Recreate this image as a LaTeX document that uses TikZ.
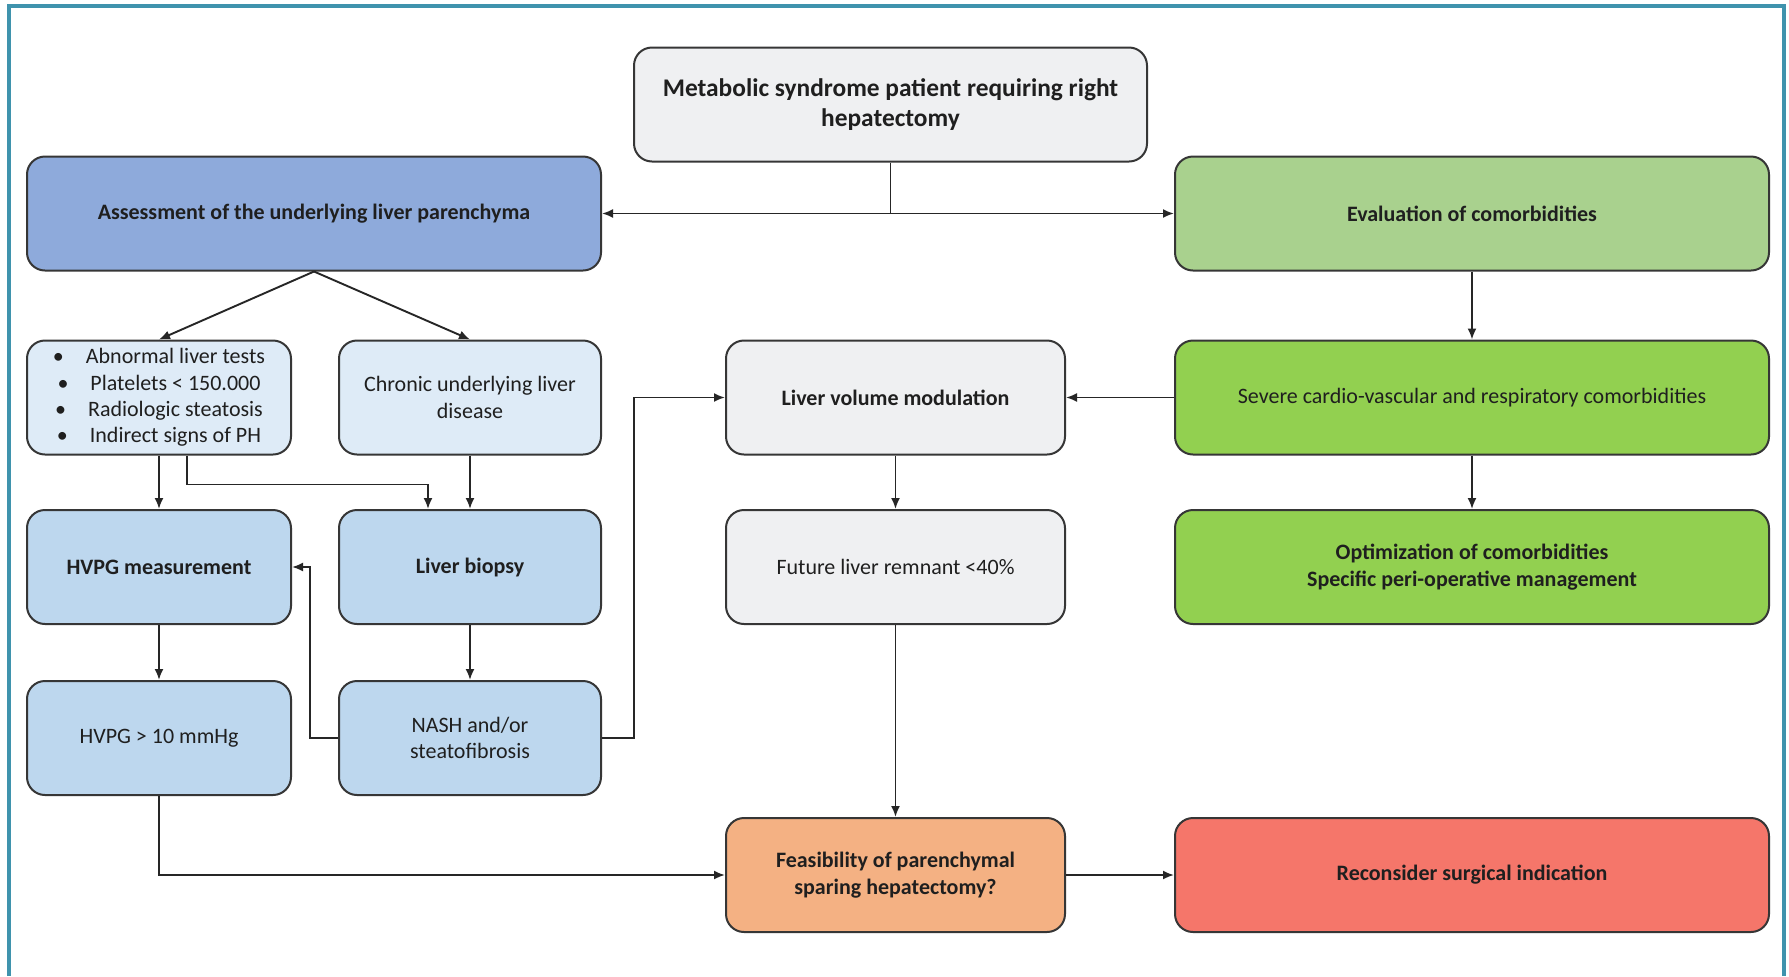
\documentclass[tikz,border=0pt]{standalone}
\usepackage{fontspec}
\setmainfont{Carlito}
\usepackage{xcolor}
\usepackage{tikz}
\usetikzlibrary{arrows.meta,positioning}
\definecolor{frameblue}{HTML}{3F93AD}
\definecolor{boxline}{HTML}{363636}
\definecolor{greybox}{HTML}{EFF0F2}
\definecolor{paleblue}{HTML}{DEEBF7}
\definecolor{midblue}{HTML}{BDD7EE}
\definecolor{deepblue}{HTML}{8EAADB}
\definecolor{sagegreen}{HTML}{A9D18E}
\definecolor{limegreen}{HTML}{92D050}
\definecolor{peach}{HTML}{F4B183}
\definecolor{salmon}{HTML}{F5766A}

\begin{document}
\begin{tikzpicture}[x=0.5pt,y=-0.5pt,>={Latex[length=5.5pt,width=4.5pt]},
  box/.style={draw=boxline,line width=1pt,rounded corners=9pt,align=center,
    minimum height=57pt,inner sep=3pt,text=black!88,
    font=\fontsize{11}{13.2}\selectfont},
  col1/.style={box,minimum width=132pt},
  col2/.style={box,minimum width=131pt},
  col3/.style={box,minimum width=169.5pt},
  col4/.style={box,minimum width=297pt},
  link/.style={draw=black!85,line width=.95pt}]
\useasboundingbox (0,0) rectangle (1789,976);
\fill[white] (0,0) rectangle (1789,976);
\draw[frameblue,line width=1.6pt] (9,976)--(9,6)--(1784,6)--(1784,976);

% first rows
\node[box,fill=greybox,minimum width=256.5pt,font=\fontsize{12.7}{15.2}\selectfont\bfseries] (start) at (890.5,104.5)
  {Metabolic syndrome patient requiring right\\hepatectomy};
\node[box,fill=deepblue,minimum width=287pt,font=\fontsize{11}{13.2}\selectfont\bfseries] (assess) at (314,213.5)
  {Assessment of the underlying liver parenchyma};
\node[col4,fill=sagegreen,font=\fontsize{11}{13.2}\selectfont\bfseries] (evalc) at (1472,213.5)
  {Evaluation of comorbidities};

\node[col1,fill=paleblue] (signs) at (159,397.5)
  {\textbullet\hspace{1em}Abnormal liver tests\\
   \textbullet\hspace{1em}Platelets < 150.000\\
   \textbullet\hspace{1em}Radiologic steatosis\\
   \textbullet\hspace{1em}Indirect signs of PH};
\node[col2,fill=paleblue] (chronic) at (470,397.5) {Chronic underlying liver\\disease};
\node[col3,fill=greybox,font=\fontsize{11}{13.2}\selectfont\bfseries] (volmod) at (895.5,397.5) {Liver volume modulation};
\node[col4,fill=limegreen] (severe) at (1472,397.5) {Severe cardio-vascular and respiratory comorbidities};

\node[col1,fill=midblue,font=\fontsize{11}{13.2}\selectfont\bfseries] (hvpgm) at (159,567) {HVPG measurement};
\node[col2,fill=midblue,font=\fontsize{11}{13.2}\selectfont\bfseries] (biopsy) at (470,567) {Liver biopsy};
\node[col3,fill=greybox] (flr) at (895.5,567) {Future liver remnant <40\%};
\node[col4,fill=limegreen,font=\fontsize{11}{13.2}\selectfont\bfseries] (optim) at (1472,567)
  {Optimization of comorbidities\\Specific peri-operative management};

\node[col1,fill=midblue] (hvpgh) at (159,738) {HVPG > 10 mmHg};
\node[col2,fill=midblue] (nash) at (470,738) {NASH and/or\\steatofibrosis};

\node[col3,fill=peach,font=\fontsize{11}{13.2}\selectfont\bfseries] (feas) at (895.5,875)
  {Feasibility of parenchymal\\sparing hepatectomy?};
\node[col4,fill=salmon,font=\fontsize{11}{13.2}\selectfont\bfseries] (recons) at (1472,875)
  {Reconsider surgical indication};

% connectors
\draw[link] (start.south) -- (start.south |- assess.east) coordinate (fork);
\draw[link,->] (fork) -- (assess.east);
\draw[link,->] (fork) -- (evalc.west);
\draw[link,->] (assess.south) -- (signs.north);
\draw[link,->] (assess.south) -- (chronic.north);
\draw[link,->] (signs.south) -- (hvpgm.north);
\draw[link,->] ([xshift=14pt]signs.south) -- ++(0,29) -| ([xshift=-21pt]biopsy.north);
\draw[link,->] (chronic.south) -- (biopsy.north);
\draw[link,->] (biopsy.south) -- (nash.north);
\draw[link,->] (hvpgm.south) -- (hvpgh.north);
\draw[link,->] (nash.west) -- ++(-28,0) |- (hvpgm.east);
\draw[link,->] (nash.east) -- ++(32,0) |- (volmod.west);
\draw[link,->] (severe.west) -- (volmod.east);
\draw[link,->] (evalc.south) -- (severe.north);
\draw[link,->] (severe.south) -- (optim.north);
\draw[link,->] (volmod.south) -- (flr.north);
\draw[link,->] (flr.south) -- (feas.north);
\draw[link,->] (hvpgh.south) |- (feas.west);
\draw[link,->] (feas.east) -- (recons.west);
\end{tikzpicture}
\end{document}
